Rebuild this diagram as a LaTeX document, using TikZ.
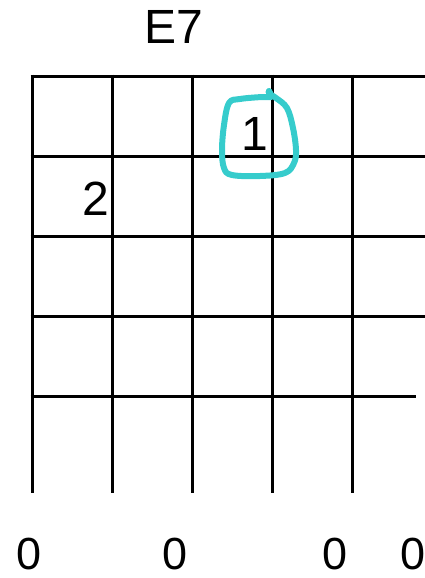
\documentclass[tikz,border=0pt]{standalone}
\usepackage{fontspec}
\setmainfont{Liberation Sans}
\definecolor{markteal}{RGB}{54,204,204}
\begin{document}
\begin{tikzpicture}[x=1pt,y=-1pt,
  gridline/.style={line width=3pt,line cap=butt},
  lbl/.style={anchor=base,inner sep=0pt,font=\fontsize{48}{48}\selectfont},
  openlbl/.style={anchor=base,inner sep=0pt,font=\fontsize{45}{45}\selectfont},
  mark1/.style={draw=markteal,line width=6pt,line cap=round,line join=round}]
\useasboundingbox (0,0) rectangle (425,578);
% horizontal lines
\foreach \y in {76,156,236,316} \draw[gridline] (30.5,\y) -- (425,\y);
\draw[gridline] (30.5,396) -- (416,396);
% vertical lines
\foreach \x in {32,112,192,272,352} \draw[gridline] (\x,74.5) -- (\x,493);
% labels
\node[lbl] (title) at (174,44) {E7};
\node[lbl] (f1) at (255,150) {1};
\node[lbl] (f2) at (96,215) {2};
\node[openlbl] (o1) at (29,569) {0};
\node[openlbl] (o2) at (175,569) {0};
\node[openlbl] (o3) at (335,569) {0};
\node[openlbl] (o4) at (413,569) {0};
% hand drawn circle
\draw[mark1] plot[smooth,tension=0.6] coordinates {(269,91) (271,97) (262,97) (240,99) (229,103) (224,125) (222,150) (224,168) (232,175) (260,176) (285,173) (294,163) (296,150) (293,128) (287,108) (276,98) (271,95)};
\fill[markteal] (269,92) circle (3.5);
\end{tikzpicture}
\end{document}
